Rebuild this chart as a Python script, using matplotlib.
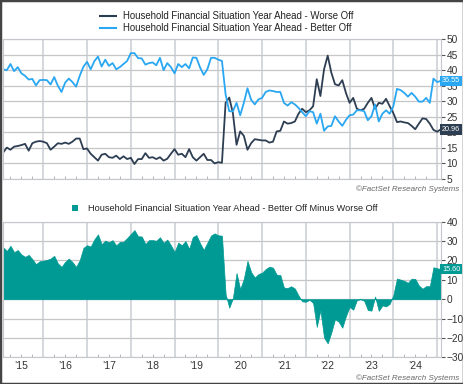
import numpy as np
import matplotlib.pyplot as plt
from matplotlib.lines import Line2D
from matplotlib.patches import Patch, Rectangle
from matplotlib.ticker import MultipleLocator, FixedLocator
import matplotlib.transforms as mtransforms

plt.rcParams['font.family'] = ['Liberation Sans', 'DejaVu Sans']

# monthly readings, first point Feb 2015
start_year = 2015
start_month = 2

better_off = [40.3, 40.0, 42.0, 39.7, 41.0, 39.0, 38.2, 37.0, 37.2, 35.1,
              36.8, 36.9, 36.8, 35.4, 37.8, 35.0, 33.0, 36.0, 37.3, 36.2,
              34.7, 38.2, 41.1, 42.7, 40.3, 42.9, 44.4, 41.2, 43.4, 41.4,
              42.3, 40.3, 41.0, 42.0, 43.0, 45.5, 45.5, 43.9, 43.8, 41.8,
              42.3, 42.5, 41.6, 44.0, 40.0, 42.3, 41.0, 39.0, 42.0, 41.0,
              42.0, 40.6, 44.1, 44.0, 40.9, 38.5, 40.3, 44.0, 44.0, 43.4,
              43.0, 32.2, 26.8, 26.8, 29.5, 25.5, 29.5, 34.2, 30.5, 29.0,
              30.6, 31.1, 33.0, 33.5, 33.3, 33.0, 33.0, 29.5, 28.6, 29.7,
              29.0, 27.9, 26.5, 25.2, 26.8, 26.5, 22.8, 26.0, 20.5, 21.9,
              22.1, 25.2, 23.5, 22.1, 24.0, 25.5, 25.7, 27.1, 27.1, 26.8,
              23.9, 25.2, 29.0, 23.5, 26.0, 27.1, 26.0, 28.4, 34.0, 33.6,
              32.7, 31.5, 32.7, 31.5, 29.9, 29.9, 31.1, 29.5, 37.3, 36.2,
              36.55]

worse_off = [13.5, 15.1, 14.4, 15.4, 15.6, 15.9, 16.3, 14.1, 16.5, 17.0,
             17.2, 17.0, 16.5, 14.4, 15.4, 16.5, 16.3, 16.7, 16.3, 17.0,
             18.0, 18.0, 14.6, 14.8, 13.1, 12.0, 10.9, 12.8, 13.1, 12.0,
             11.8, 12.5, 11.4, 12.3, 11.4, 11.8, 9.8, 11.4, 11.4, 13.3,
             11.8, 12.0, 11.4, 12.0, 10.9, 11.5, 13.1, 14.6, 12.8, 13.1,
             12.0, 14.6, 12.0, 10.9, 12.0, 13.1, 11.1, 11.1, 10.0, 10.4,
             10.2, 29.5, 31.2, 26.2, 16.0, 20.3, 18.9, 14.4, 16.5, 17.8,
             17.6, 17.4, 17.4, 16.7, 17.0, 20.3, 20.5, 23.5, 22.8, 23.0,
             23.5, 26.0, 27.6, 26.5, 27.1, 28.4, 37.1, 31.7, 40.3, 44.7,
             39.2, 35.5, 35.1, 36.8, 32.7, 29.5, 31.1, 27.6, 27.1, 27.6,
             29.5, 31.1, 27.6, 29.5, 29.2, 30.8, 28.4, 26.2, 23.3, 23.5,
             23.2, 23.0, 22.1, 21.0, 22.8, 24.5, 24.3, 22.8, 20.8, 20.2,
             20.96]

# last-value tags as printed on the chart
last_tags = ['36.55', '20.96', '15.60']

years = list(range(2015, 2025))
year_labels = ['\u201915', '\u201916', '\u201917', '\u201918', '\u201919',
               '\u201920', '\u201921', '\u201922', '\u201923', '\u201924']

worse_label = 'Household Financial Situation Year Ahead - Worse Off'
better_label = 'Household Financial Situation Year Ahead - Better Off'
diff_label = 'Household Financial Situation Year Ahead - Better Off Minus Worse Off'

c_worse = '#2e3e52'
c_better = '#2aa7f2'
c_diff = '#009a94'
grid_c = '#cdd2d8'

better = np.array(better_off)
worse = np.array(worse_off)
diff = better - worse
t = start_year + (start_month - 1 + np.arange(len(better))) / 12

fig = plt.figure(figsize=(4.64, 3.84), dpi=100)
ax1 = fig.add_axes([0.0065, 0.534, 0.944, 0.364])
ax2 = fig.add_axes([0.0065, 0.0695, 0.944, 0.353])

for ax in (ax1, ax2):
    ax.set_xlim(2015.08, 2025.09)
    ax.xaxis.set_major_locator(FixedLocator(range(2016, 2026)))
    ax.xaxis.set_minor_locator(MultipleLocator(0.25))
    ax.grid(axis='x', which='major', color=grid_c, lw=1.2)
    ax.grid(axis='y', color='#c6c6c6', lw=0.9)
    ax.set_axisbelow(True)
    for s in ax.spines.values():
        s.set_color('#c4c8cc')
        s.set_linewidth(0.8)
    ax.tick_params(axis='x', which='both', bottom=True, labelbottom=False,
                   length=0, color='#aaaaaa')
    ax.tick_params(axis='x', which='minor', length=2, direction='in')
    ax.tick_params(axis='y', left=False, labelleft=False, right=True,
                   labelright=True, length=3, width=0.8, color='#555555',
                   labelsize=7.3, labelcolor='#333333', pad=1)

# top panel
ax1.plot(t, worse, color=c_worse, lw=1.3)
ax1.plot(t, better, color=c_better, lw=1.3)
ax1.set_ylim(5, 50)
ax1.yaxis.set_major_locator(MultipleLocator(5))

# bottom panel
ax2.fill_between(t, diff, 0, color=c_diff, lw=0.5, edgecolor=c_diff)
ax2.set_ylim(-30, 40)
ax2.yaxis.set_major_locator(MultipleLocator(10))

# year labels centred on each year
for y, lab in zip(years, year_labels):
    ax2.text(y + 0.5, -0.03, lab, transform=ax2.get_xaxis_transform(),
             ha='center', va='top', fontsize=7.5, color='#333333')

# last-value tags
def tag(ax, val, color, txt):
    tr = mtransforms.blended_transform_factory(ax.transAxes, ax.transData)
    ax.text(1.002, val, txt, transform=tr, ha='left', va='center',
            fontsize=5.2, color='white', zorder=10, clip_on=False,
            bbox=dict(boxstyle='square,pad=0.25', fc=color, ec='none'))

tag(ax1, better[-1], c_better, last_tags[0])
tag(ax1, worse[-1], c_worse, last_tags[1])
tag(ax2, diff[-1], c_diff, last_tags[2])

# legends
h1 = [Line2D([], [], color=c_worse, lw=1.5), Line2D([], [], color=c_better, lw=1.5)]
fig.legend(h1, [worse_label, better_label], loc='upper left',
           bbox_to_anchor=(100 / 464, 1 - 11 / 384), frameon=False,
           fontsize=6.9, handlelength=1.7, handletextpad=0.7,
           labelspacing=0.25, borderpad=0, borderaxespad=0,
           labelcolor='#222222')
h2 = [Patch(facecolor=c_diff, edgecolor='none')]
fig.legend(h2, [diff_label], loc='upper left',
           bbox_to_anchor=(72 / 464, 1 - 204 / 384), frameon=False,
           fontsize=6.6, handlelength=0.6, handleheight=0.6,
           handletextpad=1.1, borderpad=0, borderaxespad=0,
           labelcolor='#222222')

# source notes
for yy in (1 - 189 / 384, 1 - 378 / 384):
    fig.text(459 / 464, yy, '\u00a9FactSet Research Systems', ha='right',
             va='center', fontsize=5.8, style='italic', color='#666666')

# outer frame
fig.add_artist(Rectangle((0, 0), 1, 1, transform=fig.transFigure,
                         fill=False, ec='#444444', lw=2.5))

fig.savefig('out.png', dpi=100)
